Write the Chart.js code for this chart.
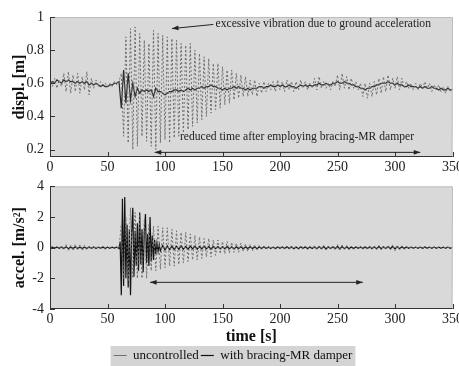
<!DOCTYPE html>
<html><head><meta charset="utf-8">
<script src="https://cdn.jsdelivr.net/npm/chart.js@4/dist/chart.umd.min.js"></script>
<style>
html,body{margin:0;padding:0;background:#fff;overflow:hidden;width:459px;height:366px;}
#w1{position:absolute;left:0;top:0;width:466px;height:183px;}
#w2{position:absolute;left:0;top:172px;width:466px;height:200px;}
</style></head><body>
<div id="w1"><canvas id="c1"></canvas></div>
<div id="w2"><canvas id="c2"></canvas></div>
<script>
// ---------- DATA ----------
const timeTicks = [0,50,100,150,200,250,300,350];
const dispTicks = [0.2,0.4,0.6,0.8,1];
const dispTickLabels = ['0.2','0.4','0.6','0.8','1'];
const accTicks = [-4,-2,0,2,4];
const accTickLabels = ['-4','-2','0','2','4'];
const seriesNames = ['uncontrolled','with bracing-MR damper'];

// displacement time samples [s]
const tDisp = [0,2,4,6,8,10,12,14,16,18,20,22,24,26,28,30,32,34,36,38,40,42,44,46,48,50,52,54,56,58,
60,62,64,66,68,70,72,74,76,78,80,82,84,86,88,90,92,94,96,98,100,102,104,106,108,110,112,114,116,118,
120,122,124,126,128,130,132,134,136,138,140,142,144,146,148,150,152,154,156,158,160,162,164,166,168,170,172,174,176,178,
180,182,184,186,188,190,192,194,196,198,200,202,204,206,208,210,212,214,216,218,220,222,224,226,228,230,232,234,236,238,
240,242,244,246,248,250,252,254,256,258,260,262,264,266,268,270,272,274,276,278,280,282,284,286,288,290,292,294,296,298,
300,302,304,306,308,310,312,314,316,318,320,322,324,326,328,330,332,334,336,338,340,342,344,346,348,350];

// displacement, uncontrolled [m]
const dispUncontrolled = [0.60,0.58,0.63,0.57,0.62,0.58,0.66,0.55,0.67,0.54,0.65,0.55,0.66,0.54,0.64,0.56,0.67,0.53,0.63,0.57,
0.62,0.58,0.61,0.59,0.60,0.58,0.60,0.58,0.61,0.59,
0.61,0.66,0.28,0.88,0.24,0.93,0.20,0.94,0.22,0.90,0.28,0.86,0.25,0.84,0.22,0.92,0.20,0.90,0.24,0.89,
0.26,0.88,0.24,0.87,0.27,0.86,0.28,0.84,0.30,0.83,0.32,0.84,0.34,0.80,0.36,0.78,0.38,0.76,0.40,0.75,
0.42,0.72,0.44,0.72,0.45,0.70,0.47,0.68,0.48,0.68,0.50,0.66,0.51,0.65,0.52,0.64,0.52,0.62,0.53,0.62,
0.52,0.60,0.54,0.61,0.55,0.60,0.56,0.61,0.55,0.62,0.56,0.61,0.55,0.62,0.56,0.61,0.55,0.61,0.56,0.62,
0.57,0.61,0.56,0.60,0.57,0.63,0.56,0.64,0.57,0.61,0.57,0.60,0.56,0.61,0.58,0.65,0.56,0.66,0.57,0.64,
0.56,0.63,0.57,0.61,0.56,0.60,0.52,0.60,0.51,0.60,0.52,0.61,0.53,0.63,0.54,0.64,0.55,0.65,0.56,0.63,
0.57,0.64,0.56,0.63,0.57,0.61,0.57,0.60,0.56,0.60,0.56,0.60,0.57,0.61,0.57,0.60,0.55,0.59,0.56,0.59,
0.55,0.58,0.54,0.58,0.55,0.57];

// displacement, with bracing-MR damper [m]
const dispControlled = [0.60,0.61,0.60,0.62,0.61,0.60,0.62,0.61,0.62,0.61,0.61,0.60,0.61,0.60,0.61,0.60,0.61,0.59,0.60,0.59,
0.60,0.59,0.58,0.59,0.58,0.58,0.59,0.59,0.60,0.60,
0.61,0.45,0.68,0.48,0.66,0.50,0.60,0.52,0.57,0.54,0.56,0.55,0.56,0.55,0.56,0.52,0.57,0.55,0.55,0.54,
0.53,0.54,0.55,0.55,0.56,0.56,0.55,0.56,0.55,0.56,0.57,0.56,0.57,0.56,0.57,0.57,0.58,0.57,0.58,0.58,
0.59,0.58,0.58,0.57,0.57,0.56,0.57,0.56,0.57,0.57,0.58,0.57,0.58,0.57,0.57,0.56,0.57,0.56,0.57,0.57,
0.57,0.58,0.58,0.57,0.58,0.58,0.59,0.58,0.58,0.59,0.58,0.59,0.58,0.58,0.59,0.58,0.58,0.57,0.58,0.59,
0.58,0.59,0.58,0.59,0.58,0.59,0.59,0.60,0.59,0.59,0.60,0.59,0.59,0.60,0.60,0.61,0.60,0.60,0.61,0.60,
0.60,0.59,0.59,0.58,0.58,0.57,0.57,0.56,0.57,0.57,0.58,0.58,0.59,0.59,0.60,0.60,0.60,0.61,0.60,0.60,
0.59,0.60,0.59,0.59,0.58,0.58,0.59,0.58,0.58,0.58,0.57,0.58,0.57,0.58,0.57,0.57,0.58,0.57,0.57,0.56,
0.57,0.56,0.56,0.57,0.56,0.56];

// acceleration, uncontrolled [m/s^2] (same time samples as displacement)
const accUncontrolled = [0,0.05,-0.05,0.08,-0.06,0.1,-0.15,0.2,-0.2,0.15,-0.2,0.2,-0.15,0.18,-0.2,0.15,-0.15,0.12,-0.1,0.1,
-0.1,0.08,-0.08,0.1,-0.1,0.08,-0.06,0.05,-0.05,0.05,
-0.05,1.5,-2.0,2.0,-2.2,2.6,-2.0,2.3,-2.0,2.2,-2.0,1.8,-2.0,1.5,-1.5,1.4,-1.5,1.4,-1.4,1.3,
-1.3,1.3,-1.2,1.2,-1.2,1.1,-1.1,1.0,-1.0,1.0,-0.9,0.9,-0.8,0.8,-0.8,0.7,-0.7,0.6,-0.6,0.6,
-0.6,0.5,-0.5,0.5,-0.4,0.4,-0.4,0.4,-0.35,0.35,-0.3,0.3,-0.3,0.3,-0.25,0.25,-0.25,0.2,-0.2,0.2,
-0.15,0.15,-0.15,0.12,-0.1,0.1,-0.1,0.08,-0.06,0.06,-0.05,0.06,-0.05,0.08,-0.06,0.1,-0.08,0.08,-0.1,0.1,
-0.08,0.1,-0.1,0.08,-0.06,0.1,-0.1,0.15,-0.12,0.15,-0.15,0.12,-0.1,0.1,-0.15,0.2,-0.2,0.18,-0.15,0.15,
-0.12,0.1,-0.1,0.08,-0.08,0.06,-0.06,0.08,-0.08,0.1,-0.1,0.12,-0.12,0.15,-0.15,0.12,-0.1,0.15,-0.15,0.2,
-0.2,0.15,-0.15,0.12,-0.1,0.08,-0.06,0.05,-0.05,0.05,-0.04,0.04,-0.04,0.05,-0.05,0.04,-0.04,0.05,-0.04,0.04,
-0.04,0.04,-0.04,0.04,-0.04,0.03];

// acceleration, with bracing-MR damper: own time samples [s]
const tAccControlled = [0,2,4,6,8,10,12,14,16,18,20,22,24,26,28,30,32,34,36,38,40,42,44,46,48,50,52,54,56,58,60,
61,62,63,64,65,66,67,68,69,70,71,72,73,74,75,76,77,78,79,80,81,82,83,84,85,86,87,88,89,90,91,92,93,94,95,
96,98,100,102,104,106,108,110,112,114,116,118,120,122,124,126,128,130,132,134,136,138,140,142,144,146,148,150,152,154,
156,158,160,162,164,166,168,170,172,174,176,178,180,182,184,186,188,190,192,194,196,198,200,202,204,206,208,210,212,214,
216,218,220,222,224,226,228,230,232,234,236,238,240,242,244,246,248,250,252,254,256,258,260,262,264,266,268,270,272,274,
276,278,280,282,284,286,288,290,292,294,296,298,300,302,304,306,308,310,312,314,316,318,320,322,324,326,328,330,332,334,
336,338,340,342,344,346,348,350];
const accControlled = [0,0.03,-0.03,0.04,-0.04,0.05,-0.05,0.06,-0.06,0.05,-0.05,0.06,-0.05,0.05,-0.05,0.04,-0.05,0.05,-0.04,0.05,
-0.05,0.04,-0.04,0.05,-0.05,0.04,-0.04,0.03,-0.03,0.04,-0.05,
0.4,-3.1,3.2,-2.5,3.3,-2.0,1.5,-2.6,1.2,-3.1,1.0,2.6,-1.9,1.1,-1.2,1.6,-1.5,2.3,-1.1,1.2,
-1.6,1.0,2.2,-1.0,0.9,-1.2,2.0,-0.9,0.8,-0.8,0.5,-0.4,0.3,-0.25,0.2,
-0.2,0.15,-0.15,0.12,-0.12,0.1,-0.12,0.1,-0.1,0.12,-0.1,0.08,-0.1,0.1,-0.08,0.1,-0.1,0.08,-0.08,0.1,
-0.08,0.08,-0.1,0.08,-0.06,0.08,-0.08,0.06,-0.06,0.08,-0.06,0.06,-0.08,0.06,-0.05,0.06,-0.06,0.05,-0.05,0.06,
-0.05,0.05,-0.06,0.05,-0.05,0.06,-0.05,0.05,-0.05,0.04,-0.05,0.05,-0.04,0.05,-0.05,0.06,-0.05,0.06,-0.06,0.05,
-0.06,0.06,-0.05,0.06,-0.06,0.05,-0.05,0.06,-0.06,0.08,-0.06,0.07,-0.08,0.06,-0.05,0.06,-0.07,0.08,-0.08,0.07,
-0.06,0.06,-0.06,0.05,-0.05,0.05,-0.04,0.05,-0.05,0.05,-0.05,0.06,-0.06,0.06,-0.06,0.07,-0.07,0.06,-0.05,0.07,
-0.07,0.08,-0.08,0.07,-0.06,0.06,-0.05,0.05,-0.04,0.04,-0.04,0.04,-0.04,0.04,-0.04,0.05,-0.04,0.04,-0.04,0.04,
-0.04,0.04,-0.04,0.04,-0.04,0.04,-0.04,0.03];

// ---------- HELPERS ----------
function zip(xs, ys){ const n=Math.min(xs.length, ys.length); const out=[]; for(let i=0;i<n;i++) out.push({x:xs[i], y:ys[i]}); return out; }
const SERIF = "'Liberation Serif','DejaVu Serif',serif";
const BG = '#d9d9d9';

const plotFrame = {
  id:'plotFrame',
  beforeDraw(chart){
    const {ctx, chartArea:a} = chart;
    ctx.save(); ctx.fillStyle = BG; ctx.fillRect(a.left, a.top, a.right-a.left, a.bottom-a.top); ctx.restore();
    if (chart.options.plugins.legend.display && chart.legend && chart.legend.legendHitBoxes && chart.legend.legendHitBoxes.length) {
      const hb = chart.legend.legendHitBoxes;
      const l = hb[0].left - 3, r = hb[hb.length-1].left + hb[hb.length-1].width + 3;
      ctx.save(); ctx.fillStyle = '#d4d4d4';
      ctx.fillRect(l, hb[0].top - 3, r-l, chart.height - hb[0].top + 3);
      ctx.restore();
    }
  },
  afterDatasetsDraw(chart){
    const {ctx, chartArea:a, scales:{x,y}} = chart;
    ctx.save();
    ctx.strokeStyle = '#bdbdbd'; ctx.lineWidth = 1;
    ctx.beginPath(); ctx.moveTo(a.left, a.top+0.5); ctx.lineTo(a.right, a.top+0.5); ctx.lineTo(a.right-0.5, a.bottom); ctx.stroke();
    ctx.strokeStyle = '#333'; ctx.lineWidth = 1;
    ctx.beginPath(); ctx.moveTo(a.left+0.5, a.top); ctx.lineTo(a.left+0.5, a.bottom-0.5); ctx.lineTo(a.right, a.bottom-0.5); ctx.stroke();
    ctx.beginPath();
    x.ticks.forEach(t=>{ const p=Math.round(x.getPixelForValue(t.value))+0.5; ctx.moveTo(p,a.bottom); ctx.lineTo(p,a.bottom-5); });
    y.ticks.forEach(t=>{ const p=Math.round(y.getPixelForValue(t.value))+0.5; ctx.moveTo(a.left,p); ctx.lineTo(a.left+5,p); });
    ctx.stroke();
    ctx.restore();
  }
};

function arrowHead(ctx, x0, y0, x1, y1, size){
  const ang = Math.atan2(y1-y0, x1-x0);
  ctx.beginPath();
  ctx.moveTo(x1, y1);
  ctx.lineTo(x1 - size*Math.cos(ang-0.35), y1 - size*Math.sin(ang-0.35));
  ctx.lineTo(x1 - size*Math.cos(ang+0.35), y1 - size*Math.sin(ang+0.35));
  ctx.closePath(); ctx.fill();
}

function annot(list){
  return {
    id:'annot',
    afterDatasetsDraw(chart){
      const {ctx, scales:{x,y}} = chart;
      ctx.save();
      ctx.strokeStyle = '#222'; ctx.fillStyle = '#222'; ctx.lineWidth = 1;
      list.forEach(a=>{
        if (a.type==='text'){
          ctx.font = '11.6px ' + SERIF; ctx.textBaseline='middle'; ctx.textAlign='left';
          ctx.fillText(a.text, x.getPixelForValue(a.x), y.getPixelForValue(a.y));
        } else {
          const x0=x.getPixelForValue(a.x0), y0=y.getPixelForValue(a.y0), x1=x.getPixelForValue(a.x1), y1=y.getPixelForValue(a.y1);
          ctx.beginPath(); ctx.moveTo(x0,y0); ctx.lineTo(x1,y1); ctx.stroke();
          arrowHead(ctx, x0,y0,x1,y1,7);
          if (a.both) arrowHead(ctx, x1,y1,x0,y0,7);
        }
      });
      ctx.restore();
    }
  };
}

function yAxis(min, max, ticks, labels, title){
  return {
    type:'linear', min, max,
    afterBuildTicks(s){ s.ticks = ticks.map(v=>({value:v})); },
    afterFit(s){ s.width = 50; },
    grid:{display:false, drawTicks:false},
    border:{display:false},
    ticks:{ padding:6, color:'#222', font:{family:SERIF, size:14},
      callback(v){ const i=ticks.indexOf(v); return i>=0 ? labels[i] : ''; } },
    title:{ display:true, text:title, color:'#111', font:{family:SERIF, size:16, weight:'bold'}, padding:{top:10,bottom:0} }
  };
}
function xAxis(title){
  const ax = {
    type:'linear', min:0, max:350,
    afterBuildTicks(s){ s.ticks = timeTicks.map(v=>({value:v})); },
    grid:{display:false, drawTicks:false},
    border:{display:false},
    ticks:{ padding:3, color:'#222', font:{family:SERIF, size:14, lineHeight:1}, maxRotation:0, autoSkip:false,
      callback(v){ return String(v); } }
  };
  if (title) ax.title = { display:true, text:title, color:'#111', font:{family:SERIF, size:16, weight:'bold', lineHeight:1}, padding:{top:0,bottom:2} };
  return ax;
}

const unStyle = { borderColor:'#6e6e6e', borderWidth:1, borderDash:[2,2], pointRadius:0, fill:false, tension:0 };
const coStyle = { borderColor:'#2b2b2b', borderWidth:1.2, pointRadius:0, fill:false, tension:0 };

Chart.defaults.animation = false;
Chart.defaults.devicePixelRatio = 1;

new Chart(document.getElementById('c1'), {
  type:'line',
  data:{ datasets:[
    Object.assign({label:seriesNames[0], data:zip(tDisp, dispUncontrolled)}, unStyle),
    Object.assign({label:seriesNames[1], data:zip(tDisp, dispControlled)}, coStyle)
  ]},
  options:{
    responsive:true, maintainAspectRatio:false, parsing:false,
    layout:{padding:{top:17, bottom:6, left:0, right:0}},
    plugins:{legend:{display:false}, tooltip:{enabled:false}},
    scales:{ x:xAxis(null), y:yAxis(0.155, 1, dispTicks, dispTickLabels, 'displ. [m]') }
  },
  plugins:[plotFrame, annot([
    {type:'text', text:'excessive vibration due to ground acceleration', x:144, y:0.96},
    {type:'arrow', x0:142, y0:0.955, x1:106, y1:0.93},
    {type:'text', text:'reduced time after employing bracing-MR damper', x:113, y:0.275},
    {type:'arrow', x0:91, y0:0.183, x1:322, y1:0.183, both:true}
  ])]
});

new Chart(document.getElementById('c2'), {
  type:'line',
  data:{ datasets:[
    Object.assign({label:seriesNames[0], data:zip(tDisp, accUncontrolled)}, unStyle),
    Object.assign({label:seriesNames[1], data:zip(tAccControlled, accControlled)}, coStyle, {borderColor:'#111'})
  ]},
  options:{
    responsive:true, maintainAspectRatio:false, parsing:false,
    layout:{padding:{top:9, bottom:0, left:0, right:0}},
    plugins:{
      tooltip:{enabled:false},
      legend:{ display:true, position:'bottom',
        labels:{ usePointStyle:true, pointStyle:'line', pointStyleWidth:13, boxHeight:8, padding:2,
          color:'#111', font:{family:SERIF, size:13} } }
    },
    scales:{ x:xAxis('time [s]'), y:yAxis(-4, 4, accTicks, accTickLabels, 'accel. [m/s²]') }
  },
  plugins:[plotFrame, annot([
    {type:'arrow', x0:87, y0:-2.26, x1:272, y1:-2.26, both:true}
  ])]
});
</script>
</body></html>
